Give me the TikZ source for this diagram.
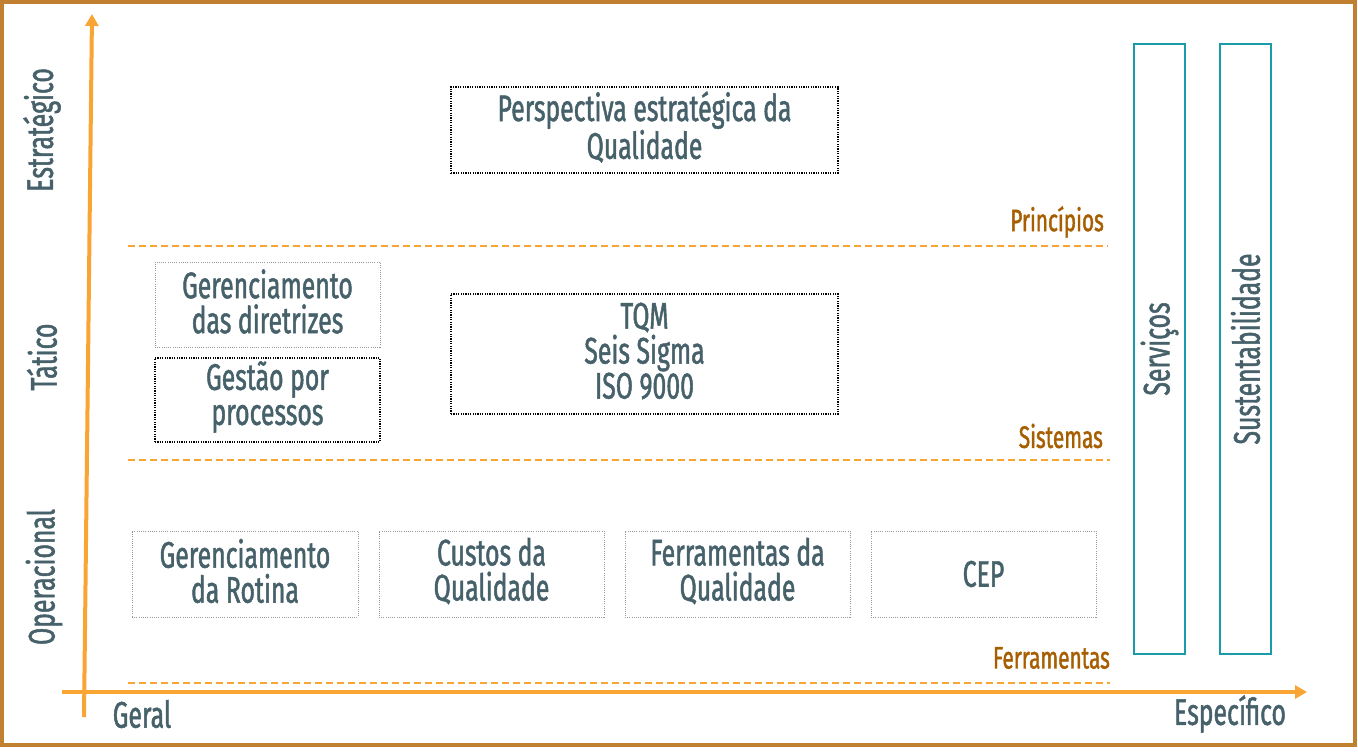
\documentclass[tikz,border=0pt]{standalone}
\usepackage{fontspec}
\setmainfont{Fira Sans}[FakeStretch=0.67, FakeBold=1.3]
\usetikzlibrary{arrows.meta}
\definecolor{frameclr}{HTML}{C0802F}
\definecolor{axisclr}{HTML}{F9A533}
\definecolor{txtclr}{HTML}{46616A}
\definecolor{levelclr}{HTML}{A65E00}
\definecolor{tealclr}{HTML}{1A9BA8}
\tikzset{
  box/.style={draw=black, line width=1.2pt, dash pattern=on 1.2pt off 1.2pt,
    inner sep=0pt, align=center, text=txtclr},
  greybox/.style={box, draw=gray!80, line width=0.8pt, dash pattern=on 1pt off 1.2pt},
  level/.style={text=levelclr, anchor=east, inner sep=0pt, font=\fontsize{31}{35}\selectfont},
  levelline/.style={axisclr, line width=1.6pt, dash pattern=on 7pt off 4pt},
  axislbl/.style={text=txtclr, font=\fontsize{37}{35}\selectfont},
  pillar/.style={draw=tealclr, line width=2.4pt, minimum width=51pt, minimum height=610pt, inner sep=0pt}
}
\begin{document}
\begin{tikzpicture}[x=1pt,y=-1pt]
\useasboundingbox (0,0) rectangle (1358,752);
\fontsize{37}{35}\selectfont
\draw [frameclr, line width=4pt] (2,2) rectangle (1355,745);

% axes
\coordinate (yfoot) at (84,717);
\coordinate (ytip) at (92,14);
\coordinate (xfoot) at (62,692);
\coordinate (xtip) at (1307,692);
\draw [axisclr, line width=4pt, -{Triangle[length=12pt,width=13pt]}] (yfoot) -- (ytip);
\draw [axisclr, line width=4pt, -{Triangle[length=12pt,width=13pt]}] (xfoot) -- (xtip);
\node [axislbl] (geral) at (142,714) {Geral};
\node [axislbl] (espec) at (1230,714) {Específico};
\node [axislbl, rotate=90] (estr) at (42,130) {Estratégico};
\node [axislbl, rotate=90] (tatico) at (42,357) {Tático};
\node [axislbl, rotate=90] (oper) at (44,577) {Operacional};

% levels
\coordinate (pa) at (128,246); \coordinate (pb) at (1108,246);
\coordinate (sa) at (128,460); \coordinate (sb) at (1110,460);
\coordinate (fa) at (128,683); \coordinate (fb) at (1110,683);
\draw [levelline] (pa) -- (pb);
\draw [levelline] (sa) -- (sb);
\draw [levelline] (fa) -- (fb);
\node [level] (princ) at (1104,222) {Princípios};
\node [level] (sist) at (1103,436) {Sistemas};
\node [level] (ferr) at (1110,658) {Ferramentas};

% boxes
\node [box, minimum width=387pt, minimum height=86pt] (persp) at (644.5,130) {};
\node [text=txtclr, align=center] at ([yshift=3pt]persp.center) {Perspectiva estratégica da\\Qualidade};
\node [greybox, minimum width=225pt, minimum height=85pt] (diretr) at (267.5,304.5) {};
\node [text=txtclr, align=center] at ([yshift=3pt]diretr.center) {Gerenciamento\\das diretrizes};
\node [box, minimum width=225pt, minimum height=84pt] (gestao) at (267.5,400) {};
\node [text=txtclr, align=center] at ([yshift=3pt]gestao.center) {Gestão por\\processos};
\node [box, minimum width=387pt, minimum height=120pt] (tqm) at (644.5,354) {};
\node [text=txtclr, align=center] at ([yshift=3pt]tqm.center) {TQM\\Seis Sigma\\ISO 9000};

\node [greybox, minimum width=226pt, minimum height=86pt] (rotina) at (245,574) {};
\node [text=txtclr, align=center] at ([yshift=3pt]rotina.center) {Gerenciamento\\da Rotina};
\node [greybox, minimum width=225pt, minimum height=86pt] (custos) at (491.5,574) {};
\node [text=txtclr, align=center] at ([yshift=3pt]custos.center) {Custos da\\Qualidade};
\node [greybox, minimum width=225pt, minimum height=86pt] (ferram) at (737.5,574) {};
\node [text=txtclr, align=center] at ([yshift=3pt]ferram.center) {Ferramentas da\\Qualidade};
\node [greybox, minimum width=225pt, minimum height=86pt] (cep) at (983.5,574) {CEP};

% pillars
\node [pillar] (serv) at (1159.5,349) {};
\node [pillar] (sust) at (1245.5,349) {};
\node [text=txtclr, rotate=90] at (serv.center) {Serviços};
\node [text=txtclr, rotate=90] at (sust.center) {Sustentabilidade};
\end{tikzpicture}
\end{document}
